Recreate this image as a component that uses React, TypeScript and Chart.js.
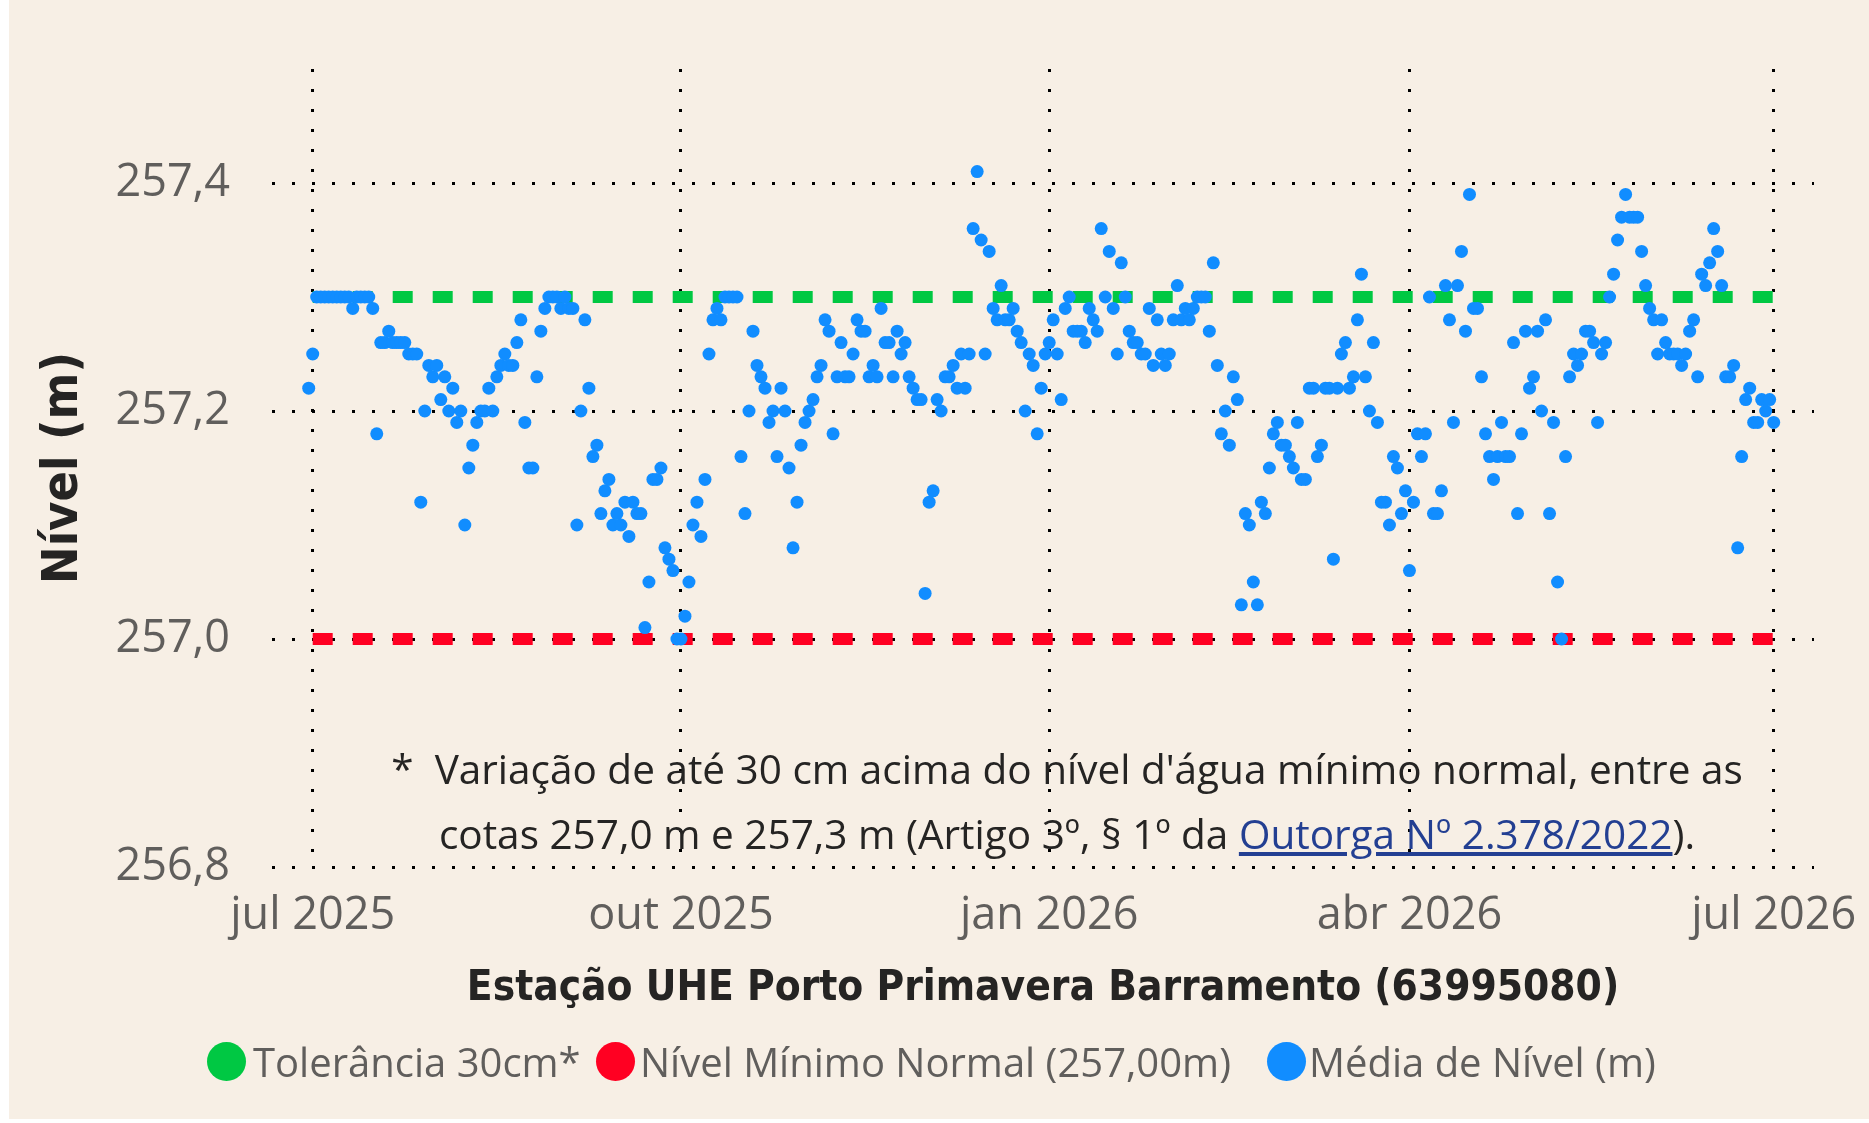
import React, { useEffect, useRef } from "react";
import { Chart, registerables } from "chart.js";

Chart.register(...registerables);

// Daily mean level (m) — Estação UHE Porto Primavera Barramento (63995080)
const jun2025 = [257.22]; // starts 30 Jun 2025
const jul2025 = [
  257.25, 257.30, 257.30, 257.30, 257.30, 257.30, 257.30, 257.30, 257.30, 257.30,
  257.29, 257.30, 257.30, 257.30, 257.30, 257.29, 257.18, 257.26, 257.26, 257.27,
  257.26, 257.26, 257.26, 257.26, 257.25, 257.25, 257.25, 257.12, 257.20, 257.24,
  257.23,
];
const aug2025 = [
  257.24, 257.21, 257.23, 257.20, 257.22, 257.19, 257.20, 257.10, 257.15, 257.17,
  257.19, 257.20, 257.20, 257.22, 257.20, 257.23, 257.24, 257.25, 257.24, 257.24,
  257.26, 257.28, 257.19, 257.15, 257.15, 257.23, 257.27, 257.29, 257.30, 257.30,
  257.30,
];
const sep2025 = [
  257.29, 257.30, 257.29, 257.29, 257.10, 257.20, 257.28, 257.22, 257.16, 257.17,
  257.11, 257.13, 257.14, 257.10, 257.11, 257.10, 257.12, 257.09, 257.12, 257.11,
  257.11, 257.01, 257.05, 257.14, 257.14, 257.15, 257.08, 257.07, 257.06, 257.00,
];
const oct2025 = [
  257.00, 257.02, 257.05, 257.10, 257.12, 257.09, 257.14, 257.25, 257.28, 257.29,
  257.28, 257.30, 257.30, 257.30, 257.30, 257.16, 257.11, 257.20, 257.27, 257.24,
  257.23, 257.22, 257.19, 257.20, 257.16, 257.22, 257.20, 257.15, 257.08, 257.12,
  257.17,
];
const nov2025 = [
  257.19, 257.20, 257.21, 257.23, 257.24, 257.28, 257.27, 257.18, 257.23, 257.26,
  257.23, 257.23, 257.25, 257.28, 257.27, 257.27, 257.23, 257.24, 257.23, 257.29,
  257.26, 257.26, 257.23, 257.27, 257.25, 257.26, 257.23, 257.22, 257.21, 257.21,
];
const dec2025 = [
  257.04, 257.12, 257.13, 257.21, 257.20, 257.23, 257.23, 257.24, 257.22, 257.25,
  257.22, 257.25, 257.36, 257.41, 257.35, 257.25, 257.34, 257.29, 257.28, 257.31,
  257.28, 257.28, 257.29, 257.27, 257.26, 257.20, 257.25, 257.24, 257.18, 257.22,
  257.25,
];
const jan2026 = [
  257.26, 257.28, 257.25, 257.21, 257.29, 257.30, 257.27, 257.27, 257.27, 257.26,
  257.29, 257.28, 257.27, 257.36, 257.30, 257.34, 257.29, 257.25, 257.33, 257.30,
  257.27, 257.26, 257.26, 257.25, 257.25, 257.29, 257.24, 257.28, 257.25, 257.24,
  257.25,
];
const feb2026 = [
  257.28, 257.31, 257.28, 257.29, 257.28, 257.29, 257.30, 257.30, 257.30, 257.27,
  257.33, 257.24, 257.18, 257.20, 257.17, 257.23, 257.21, 257.03, 257.11, 257.10,
  257.05, 257.03, 257.12, 257.11, 257.15, 257.18, 257.19, 257.17,
];
const mar2026 = [
  257.17, 257.16, 257.15, 257.19, 257.14, 257.14, 257.22, 257.22, 257.16, 257.17,
  257.22, 257.22, 257.07, 257.22, 257.25, 257.26, 257.22, 257.23, 257.28, 257.32,
  257.23, 257.20, 257.26, 257.19, 257.12, 257.12, 257.10, 257.16, 257.15, 257.11,
  257.13,
];
const apr2026 = [
  257.06, 257.12, 257.18, 257.16, 257.18, 257.30, 257.11, 257.11, 257.13, 257.31,
  257.28, 257.19, 257.31, 257.34, 257.27, 257.39, 257.29, 257.29, 257.23, 257.18,
  257.16, 257.14, 257.16, 257.19, 257.16, 257.16, 257.26, 257.11, 257.18, 257.27,
];
const may2026 = [
  257.22, 257.23, 257.27, 257.20, 257.28, 257.11, 257.19, 257.05, 257.00, 257.16,
  257.23, 257.25, 257.24, 257.25, 257.27, 257.27, 257.26, 257.19, 257.25, 257.26,
  257.30, 257.32, 257.35, 257.37, 257.39, 257.37, 257.37, 257.37, 257.34, 257.31,
  257.29,
];
const jun2026 = [
  257.28, 257.25, 257.28, 257.26, 257.25, 257.25, 257.25, 257.24, 257.25, 257.27,
  257.28, 257.23, 257.32, 257.31, 257.33, 257.36, 257.34, 257.31, 257.23, 257.23,
  257.24, 257.08, 257.16, 257.21, 257.22, 257.19, 257.19, 257.21, 257.20, 257.21,
];
const jul2026 = [257.19];

// [year, month(0-based), first day, values]
const monthSeries: [number, number, number, number[]][] = [
  [2025, 5, 30, jun2025],
  [2025, 6, 1, jul2025],
  [2025, 7, 1, aug2025],
  [2025, 8, 1, sep2025],
  [2025, 9, 1, oct2025],
  [2025, 10, 1, nov2025],
  [2025, 11, 1, dec2025],
  [2026, 0, 1, jan2026],
  [2026, 1, 1, feb2026],
  [2026, 2, 1, mar2026],
  [2026, 3, 1, apr2026],
  [2026, 4, 1, may2026],
  [2026, 5, 1, jun2026],
  [2026, 6, 1, jul2026],
];

const tickLabels = ["jul 2025", "out 2025", "jan 2026", "abr 2026", "jul 2026"];
const tickDates: [number, number, number][] = [
  [2025, 6, 1],
  [2025, 9, 1],
  [2026, 0, 1],
  [2026, 3, 1],
  [2026, 6, 1],
];
const yTicks = [256.8, 257.0, 257.2, 257.4];
const toleranceLevel = 257.3;
const minimumLevel = 257.0;
const lineStart: [number, number, number] = [2025, 6, 1];
const lineEnd: [number, number, number] = [2026, 6, 1];

const ORIGIN = Date.UTC(2025, 6, 1);
const DAY = 86400000;
const dayOf = (y: number, m: number, d: number) => (Date.UTC(y, m, d) - ORIGIN) / DAY;

const BG = "rgb(247,239,229)";
const GREY = "#605E5C";
const DARK = "#252423";
const BLUE = "#118DFF";
const GREEN = "#00C843";
const RED = "#FF0022";
const TITLE_FONT = '"Liberation Sans Narrow", "DejaVu Sans Condensed", "Open Sans", sans-serif';
const TEXT_FONT = '"Open Sans", "Noto Sans", sans-serif';

export default function App() {
  const canvasRef = useRef<HTMLCanvasElement | null>(null);

  useEffect(() => {
    const canvas = canvasRef.current;
    if (!canvas) return;

    const points: { x: number; y: number }[] = [];
    monthSeries.forEach(([y, m, d0, vals]) => {
      vals.forEach((v, i) => points.push({ x: dayOf(y, m, d0 + i), y: v }));
    });
    const tickValues = tickDates.map(([y, m, d]) => dayOf(y, m, d));
    const x0 = dayOf(...lineStart);
    const x1 = dayOf(...lineEnd);

    const chart = new Chart(canvas, {
      type: "scatter",
      data: {
        datasets: [
          {
            label: "Média de Nível (m)",
            data: points,
            backgroundColor: BLUE,
            borderColor: BLUE,
            borderWidth: 0,
            pointRadius: 6.5,
            order: 0,
          },
          {
            label: "Tolerância 30cm*",
            data: [
              { x: x0, y: toleranceLevel },
              { x: x1, y: toleranceLevel },
            ],
            showLine: true,
            borderColor: GREEN,
            backgroundColor: GREEN,
            borderWidth: 12,
            borderDash: [20, 20],
            pointRadius: 0,
            order: 1,
          } as any,
          {
            label: "Nível Mínimo Normal (257,00m)",
            data: [
              { x: x0, y: minimumLevel },
              { x: x1, y: minimumLevel },
            ],
            showLine: true,
            borderColor: RED,
            backgroundColor: RED,
            borderWidth: 12,
            borderDash: [20, 20],
            pointRadius: 0,
            order: 2,
          } as any,
        ],
      },
      options: {
        animation: false,
        responsive: false,
        maintainAspectRatio: false,
        devicePixelRatio: 1,
        layout: { padding: { top: 67, right: 55, left: 0, bottom: 0 } },
        plugins: {
          legend: { display: false },
          tooltip: { enabled: false },
        },
        scales: {
          x: {
            type: "linear",
            min: -10.17,
            max: 375.07,
            afterFit: (scale: any) => {
              scale.height = 256;
              scale.paddingLeft = 0;
              scale.paddingRight = 0;
            },
            afterBuildTicks: (scale: any) => {
              scale.ticks = tickValues.map((v) => ({ value: v }));
            },
            ticks: {
              autoSkip: false,
              maxRotation: 0,
              padding: 22,
              color: GREY,
              font: { family: TEXT_FONT, size: 45 },
              callback: (_v: any, i: number) => tickLabels[i],
            },
            grid: {
              color: "#000",
              lineWidth: 3,
              drawTicks: false,
            },
            border: { display: false, dash: [3, 17] },
            title: {
              display: true,
              text: "Estação UHE Porto Primavera Barramento (63995080)",
              color: DARK,
              font: { family: TITLE_FONT, size: 42, weight: "bold" },
              padding: { top: 0, bottom: 109 },
            },
          },
          y: {
            type: "linear",
            min: 256.8,
            max: 257.5,
            afterFit: (scale: any) => {
              scale.width = 272;
            },
            afterBuildTicks: (scale: any) => {
              scale.ticks = yTicks.map((v) => ({ value: v }));
            },
            ticks: {
              padding: 42,
              color: GREY,
              font: { family: TEXT_FONT, size: 45 },
              callback: (v: any) => Number(v).toFixed(1).replace(".", ","),
            },
            grid: {
              color: "#000",
              lineWidth: 3,
              drawTicks: false,
            },
            border: { display: false, dash: [3, 17] },
            title: {
              display: true,
              text: "Nível (m)",
              color: DARK,
              font: { family: TITLE_FONT, size: 50, weight: "bold" },
              padding: { top: 34, bottom: 0 },
            },
          },
        },
      },
    });
    return () => chart.destroy();
  }, []);

  const legendItems = [
    { color: GREEN, label: "Tolerância 30cm*", circle: 207, text: 253 },
    { color: RED, label: "Nível Mínimo Normal (257,00m)", circle: 596, text: 640 },
    { color: BLUE, label: "Média de Nível (m)", circle: 1267, text: 1309 },
  ];

  return (
    <div style={{ position: "fixed", left: 0, top: 0, width: 1869, height: 1123, background: "#fff", overflow: "hidden" }}>
      <div style={{ position: "absolute", left: 9, top: 0, width: 1860, height: 1119, background: BG }} />
      <canvas
        ref={canvasRef}
        width={1869}
        height={1123}
        style={{ position: "absolute", left: 0, top: 0, width: 1869, height: 1123 }}
      />
      <div
        style={{
          position: "absolute",
          left: 267,
          width: 1600,
          top: 736,
          fontFamily: TEXT_FONT,
          fontSize: 40.5,
          lineHeight: "65px",
          color: DARK,
          textAlign: "center",
          whiteSpace: "nowrap",
          pointerEvents: "none",
        }}
      >
        <div>*&nbsp; Variação de até 30 cm acima do nível d'água mínimo normal, entre as</div>
        <div>
          cotas 257,0 m e 257,3 m (Artigo 3º, § 1º da{" "}
          <span style={{ color: "#233F92", textDecoration: "underline" }}>Outorga Nº 2.378/2022</span>).
        </div>
      </div>
      {legendItems.map((it) => (
        <React.Fragment key={it.label}>
          <div
            style={{
              position: "absolute",
              left: it.circle,
              top: 1042,
              width: 39,
              height: 39,
              borderRadius: "50%",
              background: it.color,
            }}
          />
          <div
            style={{
              position: "absolute",
              left: it.text,
              top: 1034,
              lineHeight: "56px",
              fontFamily: TEXT_FONT,
              fontSize: 40,
              color: GREY,
              whiteSpace: "nowrap",
            }}
          >
            {it.label}
          </div>
        </React.Fragment>
      ))}
    </div>
  );
}
